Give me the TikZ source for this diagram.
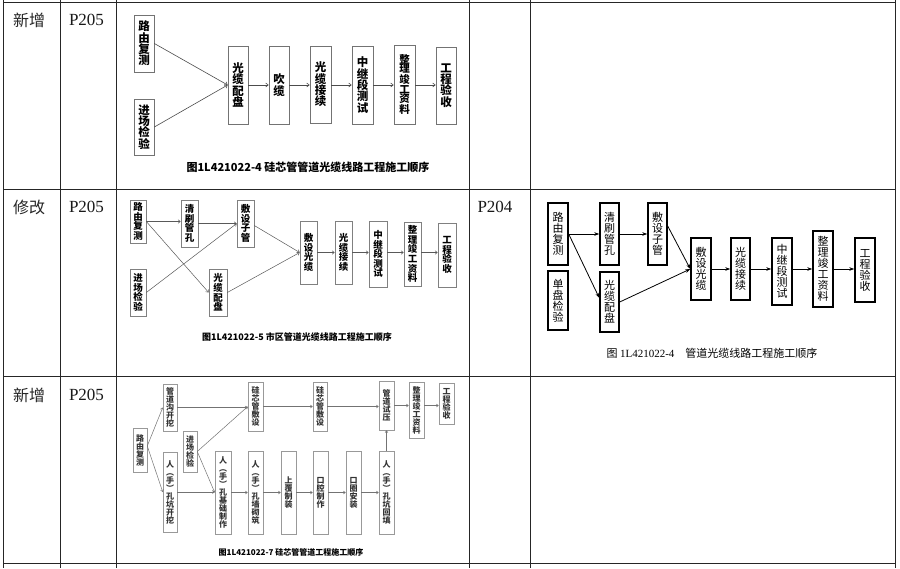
\documentclass[tikz,border=0pt]{standalone}
\usepackage{fontspec}
\setmainfont{Liberation Serif}
\newfontfamily\cjk{Noto Sans CJK SC}
\usetikzlibrary{arrows.meta}
\newcommand\bx[7]{\node[#1, minimum width={#4-#2}, minimum height={#5-#3}] (#6) at ({(#2+#4)/2},{(#3+#5)/2}) {#7};}
\tikzset{
  tbl/.style={draw=black!85, line width=1pt},
  lblc/.style={font=\cjk\fontsize{16}{18}\selectfont, text=black!85},
  lblp/.style={font=\rmfamily\fontsize{17}{19}\selectfont, text=black!90},
  boxA/.style={draw=black!55, line width=0.7pt, fill=white, inner sep=0pt, align=center,
     font=\cjk\bfseries\fontsize{11.5}{11.3}\selectfont},
  arrA/.style={draw=black!70, line width=0.6pt, -{Straight Barb[length=2.5pt,width=4pt]}},
  boxB/.style={draw=black!50, line width=0.6pt, fill=white, inner sep=0pt, align=center,
     font=\cjk\bfseries\fontsize{9.5}{9.6}\selectfont},
  arrB/.style={draw=black!65, line width=0.5pt, -{Straight Barb[length=2.2pt,width=3.5pt]}},
  boxC/.style={draw=black, line width=1.4pt, fill=white, inner sep=0pt, align=center,
     font=\cjk\fontsize{11}{11}\selectfont},
  arrC/.style={draw=black, line width=0.8pt, -{Stealth[length=5pt,width=3.5pt]}},
  boxD/.style={draw=black!40, line width=0.5pt, fill=white, inner sep=0pt, align=center,
     text=black!80, font=\cjk\bfseries\fontsize{8}{8}\selectfont},
  arrD/.style={draw=black!55, line width=0.5pt, -{Straight Barb[length=2pt,width=3pt]}},
  capB/.style={font=\cjk\bfseries, inner sep=0pt}
}
\begin{document}
\begin{tikzpicture}[x=1pt,y=-1pt]
\useasboundingbox (0,0) rectangle (900,568);
\fill[white] (0,0) rectangle (900,568);
% table
\foreach \yy in {2,189,376,563} {\draw[tbl] (3,\yy) -- (895,\yy);}
\foreach \xx in {3,60,116,469,530,895} {\draw[tbl] (\xx,0) -- (\xx,568);}
\node[lblc] (t1a) at (29,20) {新增};
\node[lblp] (t1b) at (86.5,20) {P205};
\node[lblc] (t2a) at (29,207) {修改};
\node[lblp] (t2b) at (86.5,207) {P205};
\node[lblp] (t2c) at (495,207) {P204};
\node[lblc] (t3a) at (29,395) {新增};
\node[lblp] (t3b) at (86.5,395) {P205};

% ---------- image 1 ----------
\bx{boxA}{134}{15}{154}{72}{a1}{路\\由\\复\\测}
\bx{boxA}{134}{99}{154}{155}{a2}{进\\场\\检\\验}
\bx{boxA}{228}{46}{248}{124}{a3}{光\\缆\\配\\盘}
\bx{boxA}{269}{46}{289}{124}{a4}{吹\\缆}
\bx{boxA}{310}{46}{331}{123}{a5}{光\\缆\\接\\续}
\bx{boxA}{352}{46}{373}{124}{a6}{中\\继\\段\\测\\试}
\bx{boxA,font=\cjk\bfseries\fontsize{10.5}{9.6}\selectfont}{394}{45}{415}{124}{a7}{整\\理\\竣\\工\\资\\料}
\bx{boxA}{436}{47}{456}{124}{a8}{工\\程\\验\\收}
\draw[arrA] (a1.east) -- (a3.west);
\draw[arrA] (a2.east) -- (a3.west);
\draw[arrA] (a3.east) -- (a3.east -| a4.west);
\draw[arrA] (a4.east) -- (a4.east -| a5.west);
\draw[arrA] (a5.east |- a4.east) -- (a4.east -| a6.west);
\draw[arrA] (a6.east |- a4.east) -- (a4.east -| a7.west);
\draw[arrA] (a7.east |- a4.east) -- (a4.east -| a8.west);
\node[capB, font=\cjk\bfseries\fontsize{11}{13}\selectfont] (capA) at (308,167) {图1L421022-4 硅芯管管道光缆线路工程施工顺序};

% ---------- image 2 ----------
\bx{boxB}{130}{200}{146}{243}{b1}{路\\由\\复\\测}
\bx{boxB}{130}{269}{146}{316}{b2}{进\\场\\检\\验}
\bx{boxB}{181}{200}{198}{247}{b3}{清\\刷\\管\\孔}
\bx{boxB}{237}{200}{254}{247}{b4}{敷\\设\\子\\管}
\bx{boxB}{209}{269}{227}{316}{b5}{光\\缆\\配\\盘}
\bx{boxB}{300}{221}{317}{284}{b6}{敷\\设\\光\\缆}
\bx{boxB}{335}{221}{352}{284}{b7}{光\\缆\\接\\续}
\bx{boxB}{369}{221}{387}{287}{b8}{中\\继\\段\\测\\试}
\bx{boxB}{404}{222}{421}{286}{b9}{整\\理\\竣\\工\\资\\料}
\bx{boxB}{438}{223}{456}{287}{b10}{工\\程\\验\\收}
\draw[arrB] (b1.east) -- (b1.east -| b3.west);
\draw[arrB] (b3.east) -- (b3.east -| b4.west);
\draw[arrB] (b2.east) -- (b4.west);
\draw[arrB] (b1.east) -- (b5.west);
\draw[arrB] ([yshift=-2pt]b4.east) -- (b6.west);
\draw[arrB] (b5.east) -- (b6.west);
\draw[arrB] (b6.east) -- (b6.east -| b7.west);
\draw[arrB] (b7.east) -- (b7.east -| b8.west);
\draw[arrB] (b8.east |- b7.east) -- (b7.east -| b9.west);
\draw[arrB] (b9.east |- b7.east) -- (b7.east -| b10.west);
\node[capB, font=\cjk\bfseries\fontsize{9}{11}\selectfont] (capB2) at (297,337) {图1L421022-5 市区管道光缆线路工程施工顺序};

% ---------- image 3 ----------
\bx{boxC}{548}{203}{568}{265}{c1}{路\\由\\复\\测}
\bx{boxC}{548}{271}{568}{330}{c2}{单\\盘\\检\\验}
\bx{boxC}{600}{203}{619}{265}{c3}{清\\刷\\管\\孔}
\bx{boxC}{600}{272}{619}{332}{c4}{光\\缆\\配\\盘}
\bx{boxC}{648}{203}{667}{265}{c5}{敷\\设\\子\\管}
\bx{boxC}{691}{238}{711}{300}{c6}{敷\\设\\光\\缆}
\bx{boxC}{731}{238}{750}{300}{c7}{光\\缆\\接\\续}
\bx{boxC}{772}{238}{792}{305}{c8}{中\\继\\段\\测\\试}
\bx{boxC}{813}{231}{833}{307}{c9}{整\\理\\竣\\工\\资\\料}
\bx{boxC}{855}{238}{875}{302}{c10}{工\\程\\验\\收}
\draw[arrC] (c1.east) -- (c1.east -| c3.west);
\draw[arrC] (c3.east) -- (c3.east -| c5.west);
\draw[arrC] (c1.east) -- ([yshift=4pt]c4.west);
\draw[arrC] ([yshift=8pt]c5.east) -- (c6.west);
\draw[arrC] (c4.east) -- (c6.west);
\draw[arrC] (c6.east) -- (c6.east -| c7.west);
\draw[arrC] (c7.east) -- (c7.east -| c8.west);
\draw[arrC] (c8.east |- c7.east) -- (c7.east -| c9.west);
\draw[arrC] (c9.east |- c7.east) -- (c7.east -| c10.west);
\node[inner sep=0pt, font=\cjk\fontsize{11}{13}\selectfont] (capC) at (712,353) {图 {\rmfamily 1L421022-4}\quad 管道光缆线路工程施工顺序};

% ---------- image 4 ----------
\bx{boxD}{133}{428}{147}{472}{d1}{路\\由\\复\\测}
\bx{boxD}{163}{384}{177}{431}{d2}{管\\道\\沟\\开\\挖}
\bx{boxD}{163}{452}{177}{532}{d3}{人\\︵\\手\\︶\\孔\\坑\\开\\挖}
\bx{boxD}{183}{431}{197}{472}{d4}{进\\场\\检\\验}
\bx{boxD}{248}{382}{263}{431}{d5}{硅\\芯\\管\\敷\\设}
\bx{boxD}{313}{382}{327}{431}{d6}{硅\\芯\\管\\敷\\设}
\bx{boxD}{379}{381}{394}{430}{d7}{管\\道\\试\\压}
\bx{boxD}{409}{382}{424}{438}{d8}{整\\理\\竣\\工\\资\\料}
\bx{boxD}{439}{383}{454}{424}{d9}{工\\程\\验\\收}
\bx{boxD}{215}{451}{231}{534}{d10}{人\\︵\\手\\︶\\孔\\基\\础\\制\\作}
\bx{boxD}{248}{451}{263}{534}{d11}{人\\︵\\手\\︶\\孔\\墙\\砌\\筑}
\bx{boxD}{281}{451}{296}{534}{d12}{上\\覆\\制\\装}
\bx{boxD}{313}{451}{328}{534}{d13}{口\\腔\\制\\作}
\bx{boxD}{346}{451}{361}{534}{d14}{口\\圈\\安\\装}
\bx{boxD}{379}{451}{394}{534}{d15}{人\\︵\\手\\︶\\孔\\坑\\回\\填}
\draw[arrD] ([yshift=4pt]d1.east) -- (d2.west);
\draw[arrD] ([yshift=4pt]d1.east) -- (d3.west);
\draw[arrD] (d2.east) -- (d2.east -| d5.west);
\draw[arrD] (d4.east) -- (d5.west);
\draw[arrD] (d4.east) -- (d10.west);
\draw[arrD] (d3.east) -- (d3.east -| d10.west);
\draw[arrD] (d10.east) -- (d10.east -| d11.west);
\draw[arrD] (d11.east) -- (d11.east -| d12.west);
\draw[arrD] (d12.east) -- (d12.east -| d13.west);
\draw[arrD] (d13.east) -- (d13.east -| d14.west);
\draw[arrD] (d14.east) -- (d14.east -| d15.west);
\draw[arrD] (d5.east) -- (d5.east -| d6.west);
\draw[arrD] (d6.east) -- (d6.east -| d7.west);
\draw[arrD] (d15.north) -- (d7.south);
\draw[arrD] (d7.east) -- (d7.east -| d8.west);
\draw[arrD] (d8.east |- d7.east) -- (d7.east -| d9.west);
\node[capB, font=\cjk\bfseries\fontsize{8}{10}\selectfont] (capD) at (291,552) {图1L421022-7 硅芯管管道工程施工顺序};
\end{tikzpicture}
\end{document}
